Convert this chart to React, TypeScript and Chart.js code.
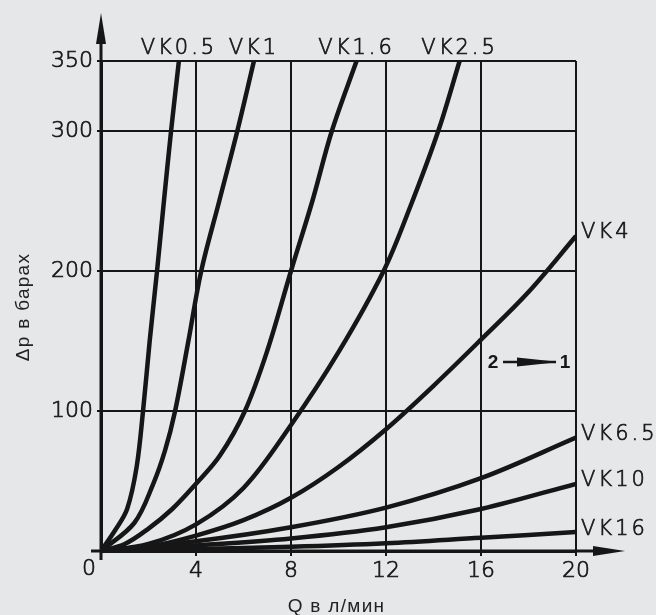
import { useEffect, useRef } from "react";
import { Chart, registerables } from "chart.js";

Chart.register(...registerables);

// ---- data ----
const xTickValues = [0, 4, 8, 12, 16, 20];
const yTickValues = [0, 100, 200, 300, 350];

const seriesNames = ["VK0.5", "VK1", "VK1.6", "VK2.5", "VK4", "VK6.5", "VK10", "VK16"];

const vk05X = [0, 0.6, 1.1, 1.5, 1.77, 2.05, 2.36, 2.65, 2.95, 3.28];
const vk05Y = [0, 15, 30, 60, 100, 150, 200, 250, 300, 350];

const vk1X = [0, 1.4, 2.2, 2.7, 3.12, 3.68, 4.22, 4.98, 5.74, 6.44];
const vk1Y = [0, 20, 48, 72, 100, 150, 200, 250, 300, 350];

const vk16X = [0, 1, 2, 3, 4, 5, 6.06, 7, 8, 8.9, 9.72, 10.76];
const vk16Y = [0, 5, 16, 30, 48, 68, 100, 143, 200, 250, 300, 350];

const vk25X = [0, 2, 4, 6, 8, 10, 11.9, 13, 14.2, 15.1];
const vk25Y = [0, 5, 19, 45, 90, 142, 200, 245, 300, 350];

const vk4X = [0, 2, 4, 6, 8, 10, 12, 14, 16, 18, 20];
const vk4Y = [0, 3, 11, 22, 38, 60, 87, 118, 151, 185, 225];

const vk65X = [0, 4, 8, 12, 16, 20];
const vk65Y = [0, 7, 17, 31, 52, 81];

const vk10X = [0, 4, 8, 12, 16, 20];
const vk10Y = [0, 4, 9, 17, 30, 48];

const vk16bX = [0, 4, 8, 12, 16, 20];
const vk16bY = [0, 1.5, 3, 5.5, 9.5, 13.5];

const seriesX = [vk05X, vk1X, vk16X, vk25X, vk4X, vk65X, vk10X, vk16bX];
const seriesY = [vk05Y, vk1Y, vk16Y, vk25Y, vk4Y, vk65Y, vk10Y, vk16bY];

const flowNoteParts = ["2", "1"];
const flowNoteAt = { x: 17.98, y: 135 };

const xTitle = "Q в л/мин";
const yTitle = "Δp в барах";

const INK = "#161616";
const BG = "#e6e7e8";
const TECH_FONT = "'DejaVu Sans', sans-serif";
const SANS_FONT = "'Liberation Sans', Arial, sans-serif";

const extrasPlugin = {
  id: "extras",
  afterDraw(chart: any) {
    const ctx = chart.ctx as CanvasRenderingContext2D;
    const { left, right, top, bottom } = chart.chartArea;
    const xs = chart.scales.x;
    const ys = chart.scales.y;
    ctx.save();
    ctx.strokeStyle = INK;
    ctx.fillStyle = INK;
    ctx.lineCap = "butt";

    // y axis extension + arrow
    ctx.lineWidth = 3;
    ctx.beginPath();
    ctx.moveTo(left, bottom + 9);
    ctx.lineTo(left, 40);
    ctx.stroke();
    ctx.beginPath();
    ctx.moveTo(left, 13);
    ctx.lineTo(left - 5, 44);
    ctx.lineTo(left + 5, 44);
    ctx.closePath();
    ctx.fill();

    // x axis extension + arrow
    ctx.beginPath();
    ctx.moveTo(left - 10, bottom);
    ctx.lineTo(right + 20, bottom);
    ctx.stroke();
    ctx.beginPath();
    ctx.moveTo(right + 49, bottom);
    ctx.lineTo(right + 17, bottom - 5);
    ctx.lineTo(right + 17, bottom + 5);
    ctx.closePath();
    ctx.fill();

    const techText = (t: string, x: number, y: number) => {
      ctx.lineWidth = 0.7;
      ctx.fillText(t, x, y);
      ctx.strokeText(t, x, y);
    };

    // origin label
    ctx.font = `200 22px ${TECH_FONT}`;
    ctx.textAlign = "center";
    ctx.textBaseline = "middle";
    techText("0", xs.getPixelForValue(0) - 12, bottom + 18);

    // curve labels
    ctx.font = `200 21px ${TECH_FONT}`;
    (ctx as any).letterSpacing = "3px";
    seriesNames.forEach((name, i) => {
      const xv = seriesX[i][seriesX[i].length - 1];
      const yv = seriesY[i][seriesY[i].length - 1];
      if (yv >= 350) {
        ctx.textAlign = "center";
        ctx.textBaseline = "middle";
        techText(name, xs.getPixelForValue(xv), top - 12);
      } else {
        ctx.textAlign = "left";
        ctx.textBaseline = "middle";
        techText(name, right + 5, ys.getPixelForValue(yv) - 3);
      }
    });

    // axis titles
    ctx.fillStyle = "#222";
    ctx.font = `19px ${SANS_FONT}`;
    (ctx as any).letterSpacing = "1.3px";
    ctx.textAlign = "center";
    ctx.textBaseline = "middle";
    ctx.fillText(xTitle, (left + right) / 2 - 2, 607);
    ctx.save();
    ctx.translate(24, (top + bottom) / 2 + 1);
    ctx.rotate(-Math.PI / 2);
    ctx.fillText(yTitle, 0, 0);
    ctx.restore();
    (ctx as any).letterSpacing = "0px";
    ctx.fillStyle = INK;

    // flow note "2 -> 1"
    const cx = xs.getPixelForValue(flowNoteAt.x);
    const cy = ys.getPixelForValue(flowNoteAt.y);
    ctx.font = `bold 19px ${SANS_FONT}`;
    ctx.textAlign = "center";
    ctx.textBaseline = "middle";
    ctx.fillText(flowNoteParts[0], cx - 35, cy + 1);
    ctx.fillText(flowNoteParts[1], cx + 37, cy + 1);
    ctx.lineWidth = 2.5;
    ctx.beginPath();
    ctx.moveTo(cx - 25, cy);
    ctx.lineTo(cx + 28, cy);
    ctx.stroke();
    ctx.beginPath();
    ctx.moveTo(cx - 11, cy - 4.5);
    ctx.lineTo(cx + 22, cy - 1);
    ctx.lineTo(cx + 22, cy + 1);
    ctx.lineTo(cx - 11, cy + 4.5);
    ctx.closePath();
    ctx.fill();

    ctx.restore();
  },
};

export default function App() {
  const canvasRef = useRef<HTMLCanvasElement | null>(null);

  useEffect(() => {
    if (!canvasRef.current) return;
    const datasets = seriesNames.map((name, i) => ({
      label: name,
      data: seriesX[i].map((x, j) => ({ x, y: seriesY[i][j] })),
      borderColor: INK,
      borderWidth: 4.5,
      pointRadius: 0,
      fill: false,
      tension: 0.35,
    }));

    const tickFont = { family: TECH_FONT, size: 22, weight: "200" as any };

    const chart = new Chart(canvasRef.current, {
      type: "line",
      data: { datasets },
      plugins: [extrasPlugin],
      options: {
        animation: false,
        responsive: true,
        maintainAspectRatio: false,
        layout: { padding: { left: 0, top: 61, right: 80, bottom: 0 } },
        plugins: {
          legend: { display: false },
          tooltip: { enabled: false },
        },
        scales: {
          x: {
            type: "linear",
            min: 0,
            max: 20,
            afterFit: (s: any) => {
              s.height = 64;
            },
            afterBuildTicks: (s: any) => {
              s.ticks = xTickValues.map((v) => ({ value: v }));
            },
            ticks: {
              callback: (v: any) => (v === 0 ? "" : String(v)),
              color: INK,
              padding: 2,
              maxRotation: 0,
              autoSkip: false,
              font: tickFont,
              textStrokeColor: INK,
              textStrokeWidth: 0.7,
            },
            grid: {
              color: INK,
              lineWidth: 2,
              drawTicks: true,
              tickLength: 5,
              tickColor: INK,
              tickWidth: 2,
            },
            border: { display: true, color: INK, width: 3 },
          },
          y: {
            type: "linear",
            min: 0,
            max: 350,
            afterFit: (s: any) => {
              s.width = 101;
            },
            afterBuildTicks: (s: any) => {
              s.ticks = yTickValues.map((v) => ({ value: v }));
            },
            ticks: {
              callback: (v: any) => (v === 0 ? "" : String(v)),
              color: INK,
              padding: 4,
              autoSkip: false,
              font: tickFont,
              textStrokeColor: INK,
              textStrokeWidth: 0.7,
            },
            grid: {
              color: INK,
              lineWidth: 2,
              drawTicks: true,
              tickLength: 4,
              tickColor: INK,
              tickWidth: 2,
            },
            border: { display: true, color: INK, width: 3 },
          },
        },
      },
    });
    return () => chart.destroy();
  }, []);

  return (
    <div
      style={{
        position: "fixed",
        left: 0,
        top: 0,
        width: 656,
        height: 615,
        background: BG,
      }}
    >
      <canvas ref={canvasRef} />
    </div>
  );
}
